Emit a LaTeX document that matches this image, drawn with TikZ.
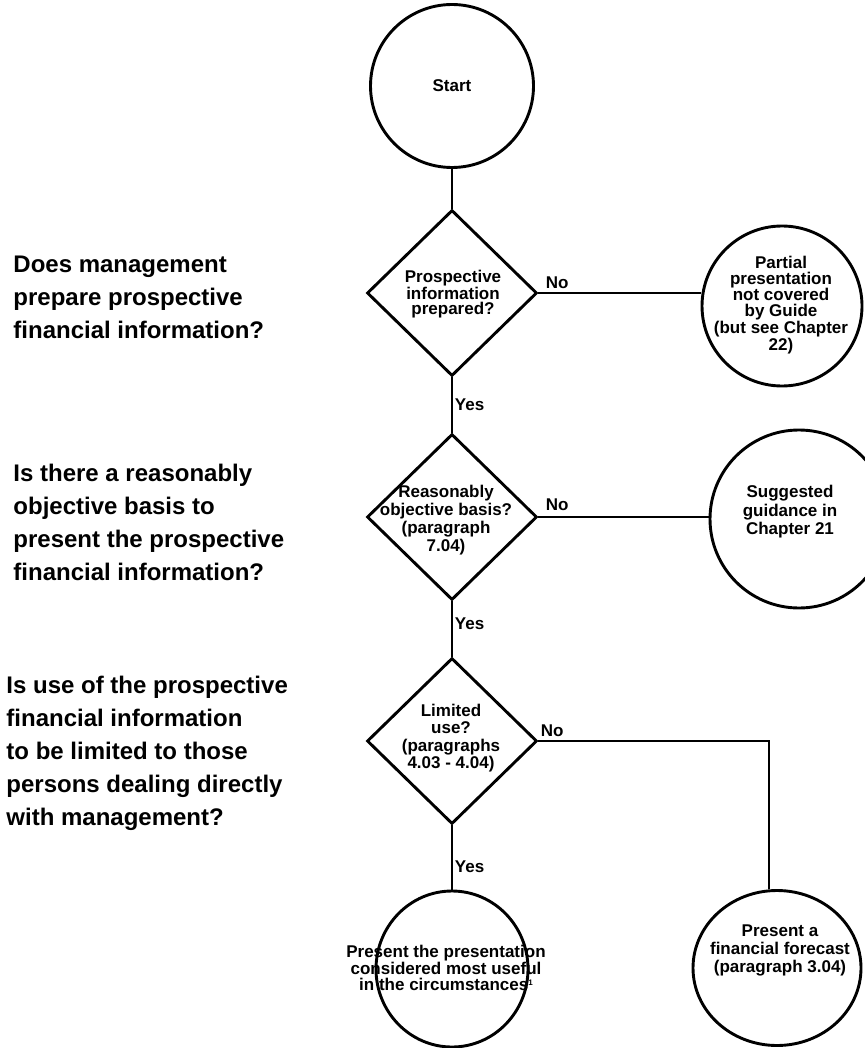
\documentclass[tikz,border=0pt]{standalone}
\usepackage{fontspec}
\setmainfont{Liberation Sans}
\usetikzlibrary{shapes.geometric}
\begin{document}
\begin{tikzpicture}[x=1pt,y=-1pt,line width=2.9pt,
  circ/.style={draw,circle,inner sep=0pt},
  ell/.style={draw,ellipse,inner sep=0pt},
  dia/.style={draw,diamond,inner sep=0pt,minimum width=170pt,minimum height=166pt},
  txt/.style={font=\bfseries\fontsize{17}{#1}\selectfont,align=center,inner sep=0pt},
  lefttxt/.style={font=\bfseries\fontsize{24}{33}\selectfont,align=left,inner sep=0pt,anchor=base west},
  lbl/.style={font=\bfseries\fontsize{17}{17}\selectfont,inner sep=0pt,anchor=base west}]
\fill[white] (0,0) rectangle (864,1048);
\useasboundingbox (0,0) rectangle (864,1048);

% left questions (anchor = baseline of last line)
\node[lefttxt] (q1) at (12,338) {Does management\\prepare prospective\\financial information?};
\node[lefttxt] (q2) at (12,580) {Is there a reasonably\\objective basis to\\present the prospective\\financial information?};
\node[lefttxt] (q3) at (5,825) {Is use of the prospective\\financial information\\to be limited to those\\persons dealing directly\\with management?};

% shapes
\node[circ,minimum size=163pt,txt=18] (start) at (452,86) {Start};
\node[dia] (d1) at (452,293) {};
\node[txt=15] (d1t) at (453,294) {Prospective\\information\\prepared?};
\node[dia] (d2) at (452,517) {};
\node[txt=18] (d2t) at (446,520) {Reasonably\\objective basis?\\(paragraph\\7.04)};
\node[dia] (d3) at (452,741) {};
\node[txt=17.5] (d3t) at (451,738) {Limited\\use?\\(paragraphs\\4.03 - 4.04)};

\node[circ,minimum size=160pt] (partial) at (782,306) {};
\node[txt=15.5] (partialt) at (781,305) {Partial\\presentation\\not covered\\by Guide\\(but see Chapter\\22)};
\node[circ,minimum size=178pt] (sug) at (799,519) {};
\node[txt=18.5] (sugt) at (790,512) {Suggested\\guidance in\\Chapter 21};
\node[ell,minimum width=152pt,minimum height=156pt] (bl) at (452,969) {};
\node[txt=15.5] (blt) at (446,968) {Present the presentation\\considered most useful\\in the circumstances\raisebox{5pt}{\fontsize{8}{8}\selectfont 1}};
\node[ell,minimum width=168pt,minimum height=155pt] (fc) at (777,968) {};
\node[txt=18] (fct) at (780,950) {Present a\\financial forecast\\(paragraph 3.04)};

% connectors
\draw (start.south) -- (d1.north);
\draw (d1.east) -- (d1.east -| partial.west);
\draw (d1.south) -- node[lbl,anchor=west,xshift=1.5pt,pos=0.5] (y1) {Yes} (d2.north);
\draw (d2.east) -- (d2.east -| sug.west);
\draw (d2.south) -- node[lbl,anchor=west,xshift=1.5pt,pos=0.4] (y2) {Yes} (d3.north);
\draw (d3.east) -| ([xshift=-8pt]fc.north);
\draw (d3.south) -- node[lbl,anchor=west,xshift=1.5pt,pos=0.65] (y3) {Yes} (bl.north);

% No labels
\node[lbl] (n1) at ([xshift=6pt,yshift=5pt]d1.east) {No};
\node[lbl] (n2) at ([xshift=6pt,yshift=7pt]d2.east) {No};
\node[lbl] (n3) at ([xshift=1pt,yshift=5pt]d3.east) {No};
\end{tikzpicture}
\end{document}
